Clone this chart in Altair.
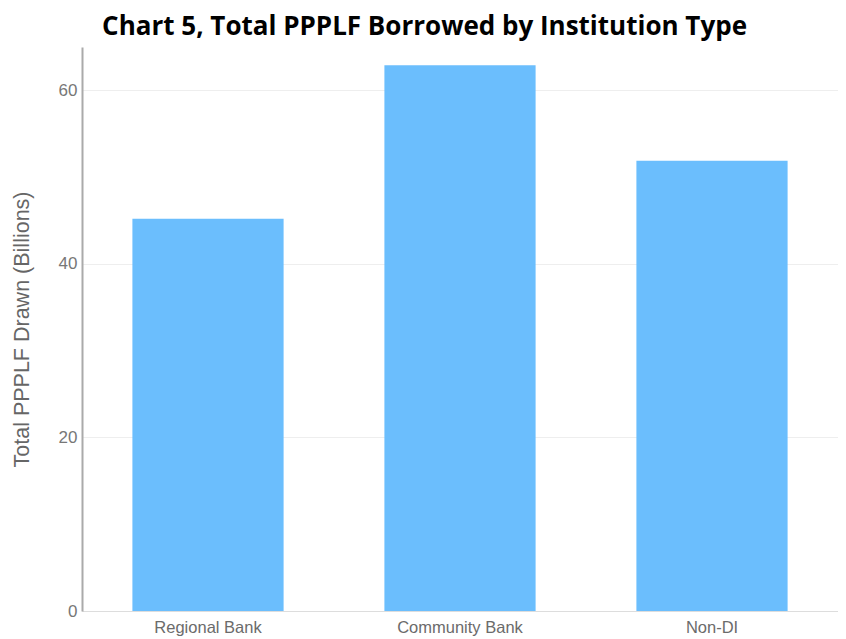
import altair as alt
import pandas as pd

categories = ["Regional Bank", "Community Bank", "Non-DI"]
values = [45.2, 62.9, 51.9]

df = pd.DataFrame({"type": categories, "total": values})

chart = alt.Chart(df).mark_bar(color="#6BBEFD").encode(
    x=alt.X("type:N", sort=categories, title=None,
            scale=alt.Scale(paddingInner=0.4, paddingOuter=0.2),
            axis=alt.Axis(labelAngle=0, labelFontSize=16.5, labelColor="#6b6b6b",
                          labelFont="Liberation Sans", ticks=False, domainColor="#dddddd",
                          domainWidth=1, labelPadding=8, grid=False)),
    y=alt.Y("total:Q", title="Total PPPLF Drawn (Billions)",
            scale=alt.Scale(domain=[0, 65], nice=False),
            axis=alt.Axis(values=[0, 20, 40, 60], labelFontSize=17, labelColor="#777777",
                          labelFont="Liberation Sans", ticks=False, domainColor="#aaaaaa",
                          domainWidth=2, labelPadding=5, gridColor="#eeeeee",
                          titleFont="Liberation Sans", titleFontSize=21.5,
                          titleFontWeight="normal", titleColor="#666666", titlePadding=25)),
).properties(
    width=756,
    height=564,
    autosize=alt.AutoSizeParams(type="none"),
    padding={"left": 74, "top": 39, "right": 0, "bottom": 28},
    title=alt.TitleParams("Chart 5, Total PPPLF Borrowed by Institution Type",
                          font="Open Sans", fontSize=26, fontWeight="bold",
                          color="#000000", anchor="middle", frame="bounds", offset=7),
).configure_view(stroke=None)

chart.save("out.html", embed_options={"renderer": "svg", "actions": False})
